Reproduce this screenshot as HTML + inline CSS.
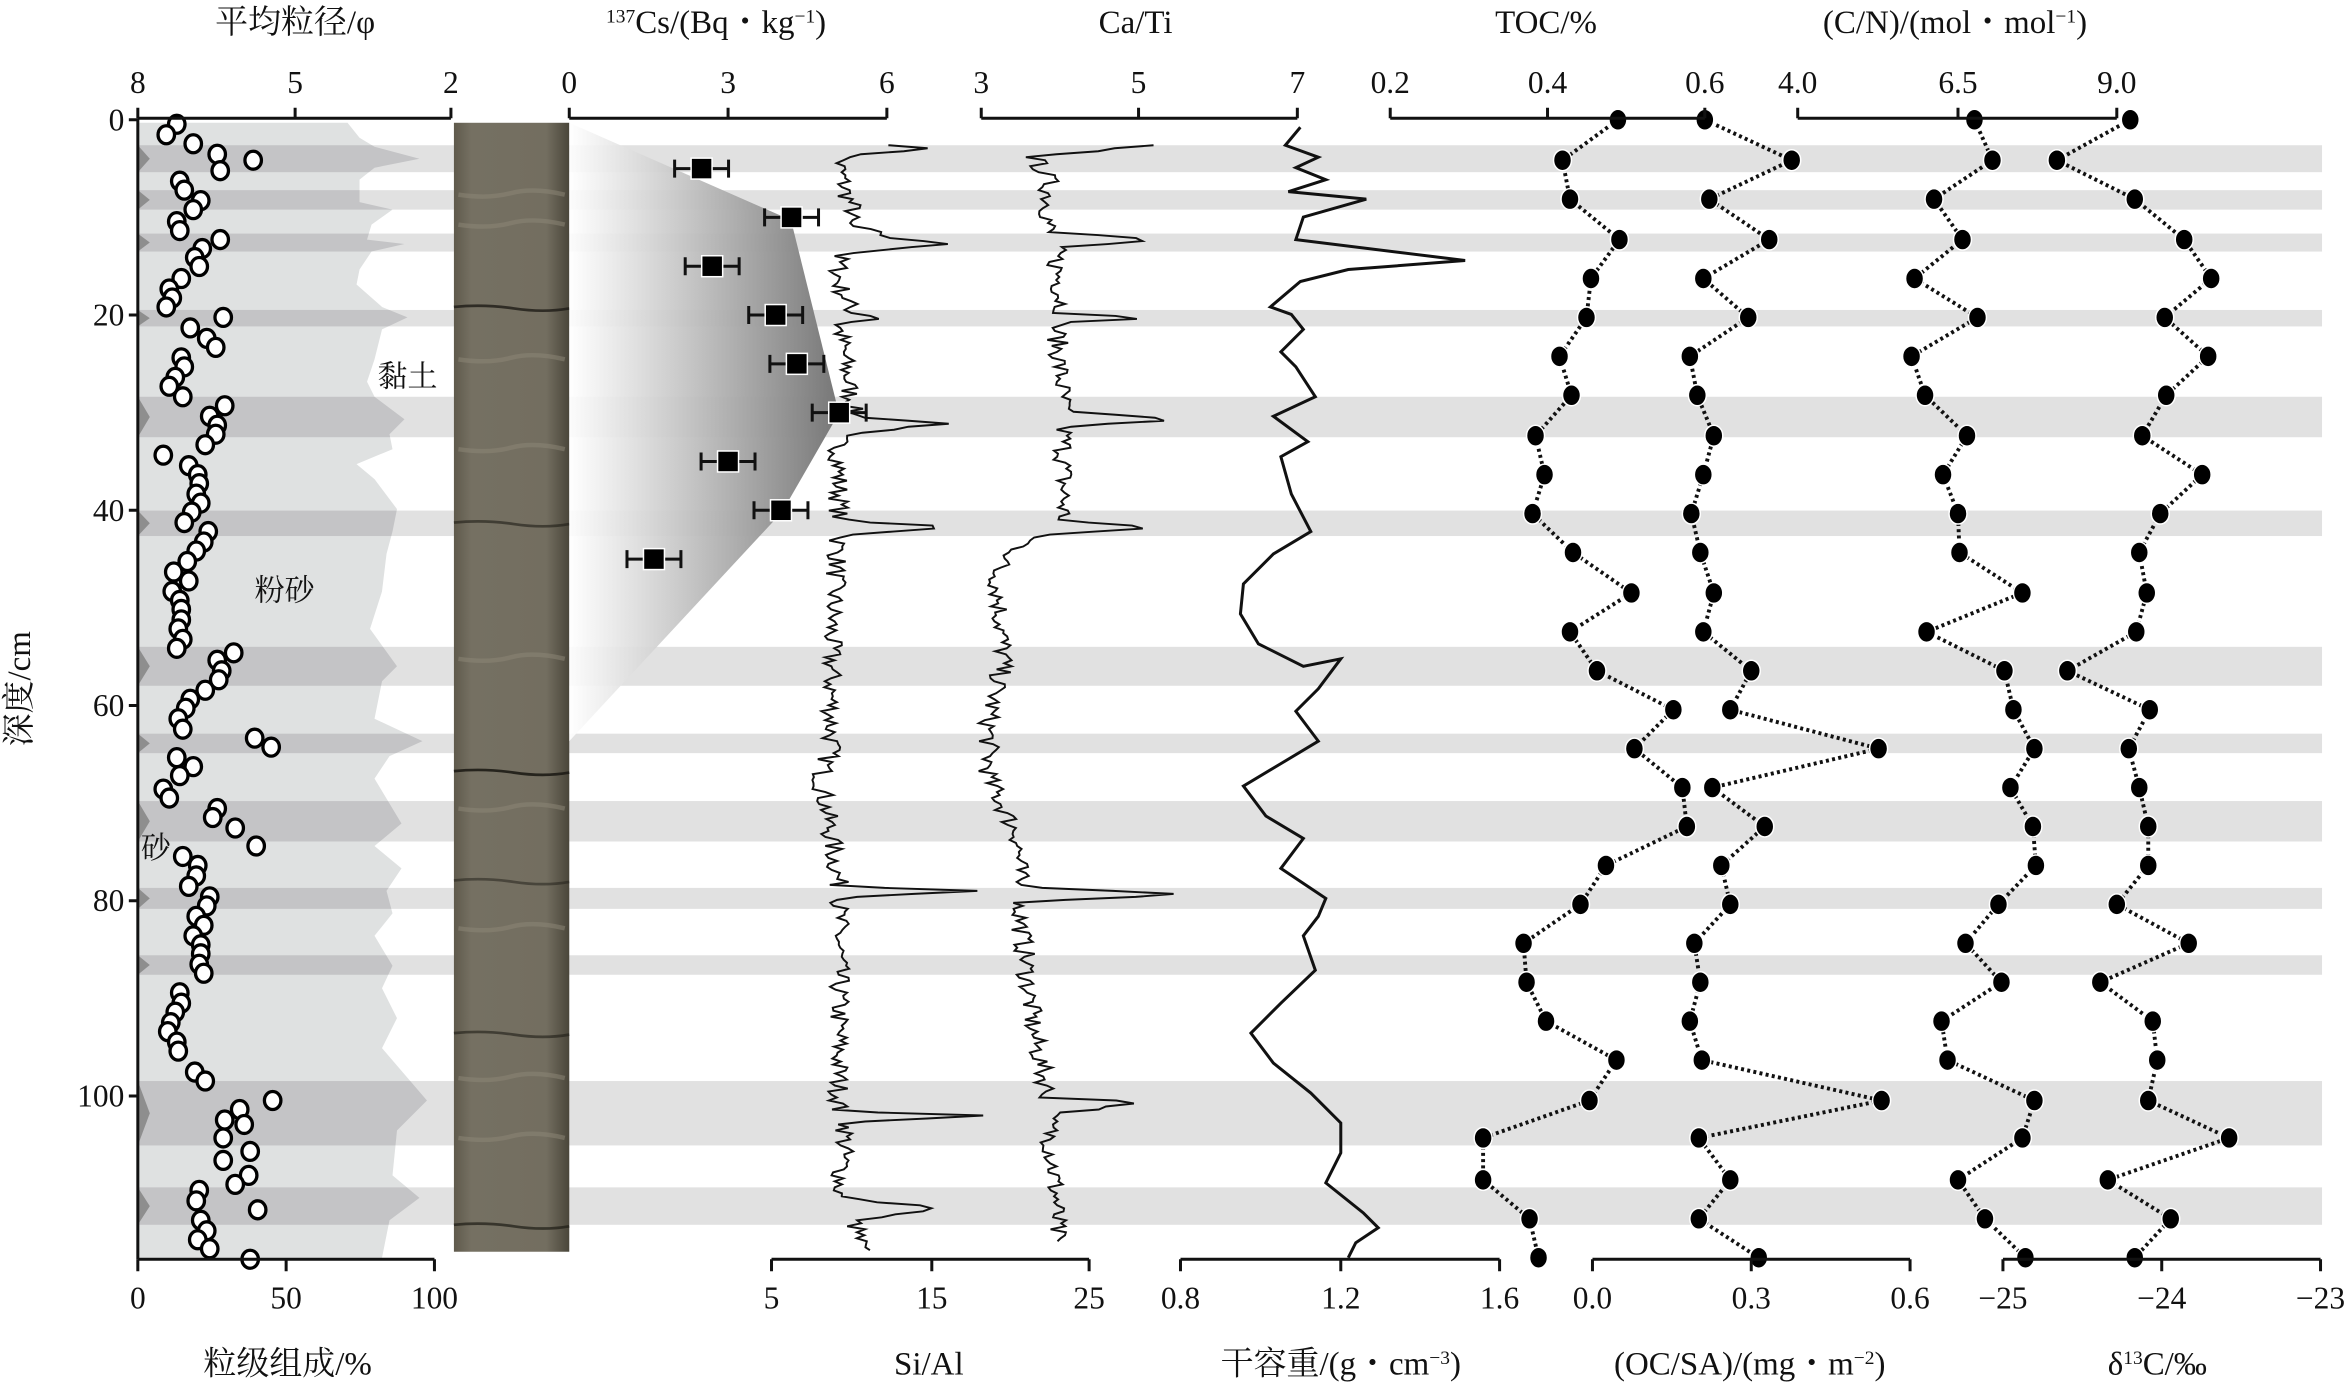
<!DOCTYPE html>
<html><head><meta charset="utf-8">
<style>
html,body{margin:0;padding:0;background:#fff;}
svg{display:block;}
text{font-family:"Liberation Serif","Noto Serif CJK SC","Noto Sans CJK SC",serif;fill:#111;}
</style></head>
<body>
<svg id="s" xmlns="http://www.w3.org/2000/svg" width="2349" height="1385" viewBox="0 0 1568 925" preserveAspectRatio="none">
<defs>
<linearGradient id="cg" x1="380" y1="0" x2="570" y2="0" gradientUnits="userSpaceOnUse">
<stop offset="0" stop-color="#ffffff" stop-opacity="0.9"/>
<stop offset="1" stop-color="#6e6e6e"/>
</linearGradient>
<linearGradient id="core" x1="0" y1="0" x2="1" y2="0">
<stop offset="0" stop-color="#5f5a4c"/><stop offset="0.15" stop-color="#757062"/>
<stop offset="0.8" stop-color="#736e60"/><stop offset="1" stop-color="#4a463a"/>
</linearGradient>
</defs>
<g id="bands"></g>
<g id="grain"></g>
<rect x="303" y="82" width="77" height="754" fill="url(#core)"/>
<g id="corelines"></g>
<polygon points="380,82 528,147 560,276 522,342 380,495" fill="url(#cg)"/>
<g id="lines" fill="none" stroke="#111" stroke-width="1.3"></g>
<g id="pts"></g>
<g id="axes" stroke="#111" stroke-width="2" fill="none"></g>
<g id="txt" font-size="21"></g>
<g font-size="22">
<text x="197" y="22" text-anchor="middle">平均粒径/φ</text>
<text x="478" y="22" text-anchor="middle"><tspan font-size="13" dy="-7">137</tspan><tspan dy="7">Cs/(Bq・kg</tspan><tspan font-size="13" dy="-7">−1</tspan><tspan dy="7">)</tspan></text>
<text x="758" y="22" text-anchor="middle">Ca/Ti</text>
<text x="1032" y="22" text-anchor="middle">TOC/%</text>
<text x="1305" y="22" text-anchor="middle">(C/N)/(mol・mol<tspan font-size="13" dy="-7">−1</tspan><tspan dy="7">)</tspan></text>
<text x="192" y="918" text-anchor="middle">粒级组成/%</text>
<text x="620" y="918" text-anchor="middle">Si/Al</text>
<text x="895" y="918" text-anchor="middle">干容重/(g・cm<tspan font-size="13" dy="-7">−3</tspan><tspan dy="7">)</tspan></text>
<text x="1168" y="918" text-anchor="middle">(OC/SA)/(mg・m<tspan font-size="13" dy="-7">−2</tspan><tspan dy="7">)</tspan></text>
<text x="1440" y="918" text-anchor="middle">δ<tspan font-size="13" dy="-7">13</tspan><tspan dy="7">C/‰</tspan></text>
<text transform="translate(20,460) rotate(-90)" text-anchor="middle">深度/cm</text>
<text x="272" y="258" text-anchor="middle" font-size="20">黏土</text>
<text x="190" y="401" text-anchor="middle" font-size="20">粉砂</text>
<text x="104" y="573" text-anchor="middle" font-size="20">砂</text>
</g>
</svg>
<script>
(function(){
var NS="http://www.w3.org/2000/svg";
function el(p,t,a,txt){var e=document.createElementNS(NS,t);for(var k in a)e.setAttribute(k,a[k]);if(txt!==undefined)e.textContent=txt;document.getElementById(p).appendChild(e);return e;}
var B=[[97,115],[127,140],[156,168],[207,218],[265,292],[341,358],[432,458],[490,503],[535,562],[593,607],[638,651],[722,765],[793,818]];
B.forEach(function(b){el("bands","rect",{x:92,y:b[0],width:1458,height:b[1]-b[0],fill:"#e1e1e1"});});
var G=[[232,82],[240,92],[250,98],[280,106],[250,112],[240,120],[240,135],[262,140],[248,150],[245,160],[270,163],[248,168],[240,180],[238,190],[255,205],[272,212],[255,220],[250,240],[245,255],[250,265],[270,280],[260,290],[262,300],[238,310],[250,320],[265,340],[262,355],[258,370],[255,395],[247,420],[265,445],[255,455],[250,480],[282,495],[260,505],[250,520],[268,550],[250,565],[268,580],[258,595],[262,610],[250,625],[262,645],[255,660],[265,680],[255,700],[285,735],[265,755],[262,785],[280,800],[260,815],[255,840]];
var pts="92,82 "+G.map(function(p){return p.join(",")}).join(" ")+" 92,840";
el("grain","polygon",{points:pts,fill:"#dfe1e1"});
var cp=el("grain","clipPath",{id:"gc"});var pp=document.createElementNS(NS,"polygon");pp.setAttribute("points",pts);cp.appendChild(pp);
B.forEach(function(b){el("grain","rect",{x:92,y:b[0],width:210,height:b[1]-b[0],fill:"#c4c4c6","clip-path":"url(#gc)"});});
B.forEach(function(b){var m=(b[0]+b[1])/2;el("grain","polygon",{points:"92,"+b[0]+" 100,"+m+" 92,"+b[1],fill:"#8e8e8e"});});
[[205,0.8],[349,0.6],[515,0.9],[588,0.5],[690,0.6],[818,0.7]].forEach(function(c){
el("corelines","path",{d:"M303,"+c[0]+" q20,-2 40,1 t37,0",stroke:"#1e1c16","stroke-width":1.8,fill:"none",opacity:c[1]});});
[130,150,240,300,440,540,620,720,760].forEach(function(y){el("corelines","path",{d:"M306,"+y+" q20,3 35,-1 t36,1",stroke:"#8d8878","stroke-width":3,fill:"none",opacity:0.5});});
var seed=7;function rnd(){seed=(seed*16807)%2147483647;return seed/2147483647;}
function noisy(k,amp){var d="";var i=0;for(var y=k[0][0];y<=k[k.length-1][0];y+=2){while(i<k.length-2&&k[i+1][0]<y)i++;var a=k[i],b=k[i+1];var t=(y-a[0])/(b[0]-a[0]||1);t=Math.max(0,Math.min(1,t));var x=a[1]+(b[1]-a[1])*t+(rnd()-0.5)*amp;d+=(d?"L":"M")+x.toFixed(1)+","+y;}return d;}
var SI=[[97,600],[100,620],[104,565],[110,560],[130,565],[140,570],[150,565],[160,600],[163,635],[170,560],[190,560],[210,570],[212,598],[216,560],[278,570],[283,632],[290,560],[348,560],[352,640],[358,560],[420,555],[500,555],[520,548],[560,555],[592,560],[595,655],[600,560],[700,560],[742,560],[745,650],[750,565],[800,560],[807,628],[815,570],[835,575]];
var CA=[[97,765],[100,740],[105,690],[120,700],[155,700],[160,775],[165,705],[175,705],[210,710],[212,770],[216,705],[275,710],[280,790],[285,710],[348,710],[352,770],[358,690],[380,665],[440,670],[480,660],[520,660],[560,680],[592,680],[597,790],[603,680],[690,690],[733,700],[736,765],[745,700],[800,705],[830,705]];
el("lines","path",{d:noisy(SI,14)});
el("lines","path",{d:noisy(CA,14)});
var BD=[[868,85],[858,97],[880,105],[865,112],[885,120],[860,128],[912,133],[870,145],[865,160],[978,174],[900,180],[868,188],[848,205],[862,210],[870,220],[855,235],[865,245],[878,265],[850,278],[873,295],[855,305],[862,330],[875,355],[850,370],[830,390],[828,410],[840,430],[870,445],[895,440],[880,460],[865,475],[880,495],[855,510],[830,525],[845,545],[870,560],[855,580],[885,600],[880,612],[870,625],[878,648],[855,670],[835,690],[850,710],[875,730],[895,750],[895,770],[885,790],[910,810],[920,820],[905,830],[900,840]];
el("lines","path",{d:"M"+BD.map(function(p){return p.join(",")}).join("L"),"stroke-width":2});
[[2.5,5],[4.2,10],[2.7,15],[3.9,20],[4.3,25],[5.1,30],[3.0,35],[4.0,40],[1.6,45]].forEach(function(c){
var x=380+c[0]*35.33,y=80+c[1]*6.52;
el("pts","path",{d:"M"+(x-18)+","+y+"H"+(x+18)+"M"+(x-18)+","+(y-6)+"V"+(y+6)+"M"+(x+18)+","+(y-6)+"V"+(y+6),stroke:"#111","stroke-width":2,fill:"none"});
el("pts","rect",{x:x-7,y:y-7,width:14,height:14,fill:"#000",stroke:"#fff","stroke-width":1});});
var GC=[[118,83],[111,90],[129,96],[145,103],[169,107],[147,114],[120,121],[123,127],[134,134],[129,140],[118,148],[120,154],[147,160],[135,166],[130,172],[133,178],[121,186],[113,193],[115,199],[111,205],[149,212],[127,219],[138,226],[144,232],[121,239],[123,245],[117,252],[113,258],[122,265],[150,271],[140,278],[145,284],[144,290],[137,297],[109,304],[126,311],[132,317],[133,323],[131,330],[134,336],[128,342],[123,349],[139,355],[136,362],[131,368],[125,375],[116,382],[126,388],[115,395],[120,401],[121,407],[121,414],[119,420],[122,427],[118,433],[156,436],[145,441],[148,448],[146,454],[137,461],[127,467],[124,473],[119,480],[122,487],[170,493],[181,499],[118,506],[129,512],[120,518],[109,527],[113,533],[145,540],[142,546],[157,553],[171,565],[122,572],[132,578],[131,585],[126,592],[140,599],[138,605],[131,612],[136,618],[129,625],[134,631],[134,637],[133,644],[136,650],[120,663],[121,670],[117,676],[114,683],[112,689],[118,696],[119,702],[130,716],[137,722],[182,735],[160,741],[150,748],[163,751],[149,760],[167,769],[149,775],[166,785],[157,791],[133,795],[131,802],[172,808],[134,815],[138,822],[132,828],[140,834],[167,841]];
GC.forEach(function(p){el("pts","ellipse",{cx:p[0],cy:p[1],rx:5.5,ry:6,fill:"#fff",stroke:"#000","stroke-width":2.2});});
var Y=[80,107,133,160,186,212,238,264,291,317,343,369,396,422,448,474,500,526,552,578,604,630,656,682,708,735,760,788,814,840];
var S=[[1080,1043,1048,1081,1062,1059,1041,1049,1025,1031,1023,1050,1089,1048,1066,1117,1091,1123,1126,1072,1055,1017,1019,1032,1079,1061,990,990,1021,1027],
[1138,1196,1141,1181,1137,1167,1128,1133,1144,1137,1129,1135,1144,1137,1169,1155,1254,1143,1178,1149,1155,1131,1135,1128,1136,1256,1134,1155,1134,1174],
[1318,1330,1291,1310,1278,1320,1276,1285,1313,1297,1307,1308,1350,1286,1338,1344,1358,1342,1357,1359,1334,1312,1336,1296,1300,1358,1350,1307,1325,1352],
[1422,1373,1425,1458,1476,1445,1474,1446,1430,1470,1442,1428,1433,1426,1380,1435,1421,1428,1434,1434,1413,1461,1402,1437,1440,1434,1488,1407,1449,1425]];
S.forEach(function(s){
el("pts","path",{d:"M"+s.map(function(x,i){return x+","+Y[i]}).join("L"),stroke:"#111","stroke-width":2.6,"stroke-dasharray":"2 2.2",fill:"none"});
s.forEach(function(x,i){el("pts","ellipse",{cx:x,cy:Y[i],rx:6,ry:7,fill:"#000",stroke:"#fff","stroke-width":1});});});
function tx(x,y,s,a){el("txt","text",{x:x,y:y,"text-anchor":a||"middle"},s);}
var topAx=[[92,301,[[92,"8"],[197,"5"],[301,"2"]]],[380,592,[[380,"0"],[486,"3"],[592,"6"]]],[655,866,[[655,"3"],[760,"5"],[866,"7"]]],[928,1138,[[928,"0.2"],[1033,"0.4"],[1138,"0.6"]]],[1200,1413,[[1200,"4.0"],[1307,"6.5"],[1413,"9.0"]]]];
topAx.forEach(function(a){var d="M"+a[0]+",79H"+a[1];a[2].forEach(function(t){d+="M"+t[0]+",79V72";tx(t[0],62,t[1]);});el("axes","path",{d:d});});
var botAx=[[92,290,[[92,"0"],[191,"50"],[290,"100"]]],[515,727,[[515,"5"],[622,"15"],[727,"25"]]],[788,1001,[[788,"0.8"],[895,"1.2"],[1001,"1.6"]]],[1063,1275,[[1063,"0.0"],[1169,"0.3"],[1275,"0.6"]]],[1337,1549,[[1337,"−25"],[1443,"−24"],[1549,"−23"]]]];
botAx.forEach(function(a){var d="M"+a[0]+",841H"+a[1];a[2].forEach(function(t){d+="M"+t[0]+",841V849";tx(t[0],874,t[1]);});el("axes","path",{d:d});});
var dd="M92,79V841";[0,20,40,60,80,100].forEach(function(v){var y=80+v*6.52;dd+="M92,"+y+"H86";tx(83,y+7,String(v),"end");});
el("axes","path",{d:dd});
})();
</script>
</body></html>
